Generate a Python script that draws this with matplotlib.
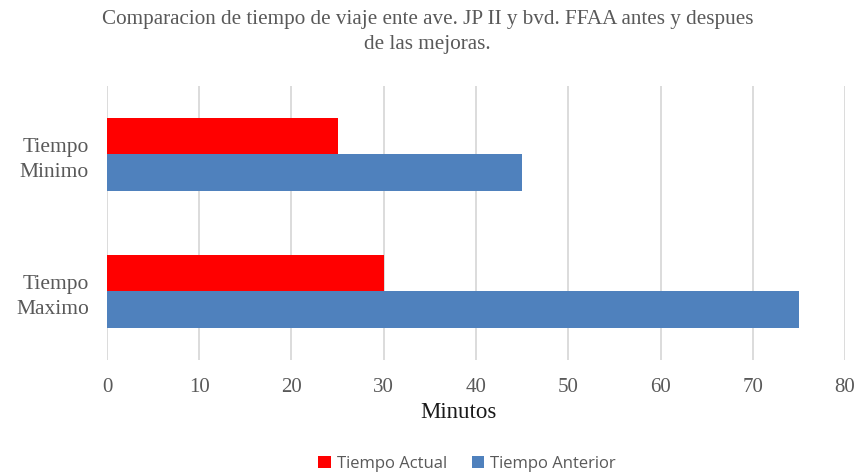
import matplotlib.pyplot as plt
import numpy as np

categories = ['Tiempo\nMinimo', 'Tiempo\nMaximo']
actual = [25, 30]
anterior = [45, 75]
series_names = ['Tiempo Actual', 'Tiempo Anterior']
xticks = [0, 10, 20, 30, 40, 50, 60, 70, 80]

grey = '#595959'
plt.rcParams['font.family'] = ['Liberation Serif', 'DejaVu Serif']

fig = plt.figure(figsize=(8.6, 4.72), dpi=100)
ax = fig.add_axes([0.1244, 0.2373, 0.8582, 0.5805])

y = np.arange(len(categories))
h = 0.263
b1 = ax.barh(y - h / 2, actual, height=h, color='#ff0000', label=series_names[0], zorder=3)
b2 = ax.barh(y + h / 2, anterior, height=h, color='#4f81bd', label=series_names[1], zorder=3)

ax.set_ylim(1.5, -0.5)
ax.set_xlim(0, 80)
ax.set_xticks(xticks)
ax.set_yticks(y)
ax.set_yticklabels(categories, fontsize=15.5, color=grey, linespacing=1.45)
ax.tick_params(axis='x', labelsize=15, colors=grey, length=0, pad=13)
ax.tick_params(axis='y', length=0, pad=13)
ax.grid(axis='x', color='#d9d9d9', linewidth=1.3, zorder=0)
for s in ax.spines.values():
    s.set_visible(False)

fig.text(0.5326, 1 - 412 / 472, 'Minutos', ha='center', va='center', fontsize=16.5, color='#1a1a1a')
fig.text(0.497, 0.979, 'Comparacion de tiempo de viaje ente ave. JP II y bvd. FFAA antes y despues\nde las mejoras.',
         ha='center', va='top', fontsize=15.2, color=grey, linespacing=1.4)

leg = fig.legend(handles=[b1, b2], loc='center', bbox_to_anchor=(0.543, 1 - 464 / 472), ncol=2, frameon=False,
                 prop={'family': 'Open Sans', 'size': 12}, handlelength=0.75, handleheight=0.75,
                 handletextpad=0.35, columnspacing=1.5)
for t in leg.get_texts():
    t.set_color(grey)

fig.savefig('out.png', dpi=100)
